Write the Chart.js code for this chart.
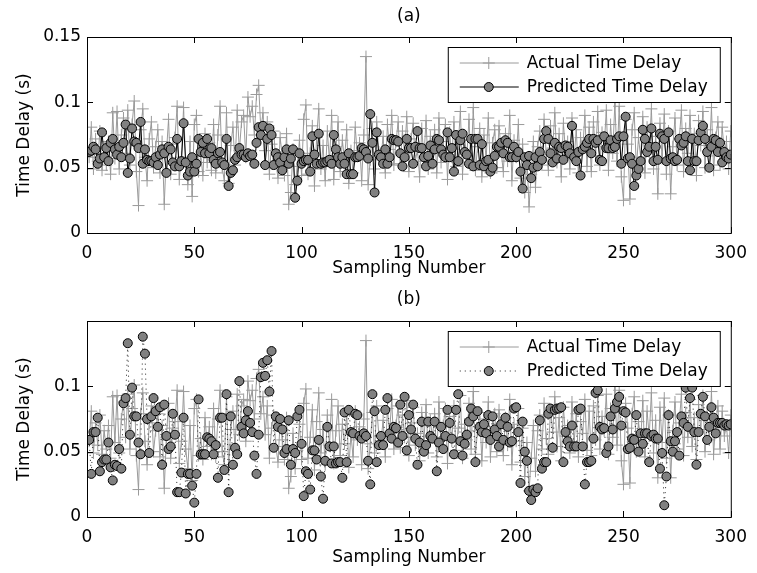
<!DOCTYPE html>
<html>
<head>
<meta charset="utf-8">
<script src="https://cdn.jsdelivr.net/npm/chart.js@4.4.1/dist/chart.umd.min.js"></script>
<style>
  html, body { margin: 0; padding: 0; background: #fff; }
  #wrap { position: relative; width: 757px; height: 573px; }
  canvas { position: absolute; left: 0; }
  #chartA { top: 0; }
  #chartB { top: 287px; }
</style>
</head>
<body>
<div id="wrap">
  <canvas id="chartA" width="757" height="287"></canvas>
  <canvas id="chartB" width="757" height="286"></canvas>
</div>
<script>
// sampling numbers 1..300
const samples = Array.from({ length: 300 }, (_, i) => i + 1);

// measured delay (same in both panels)
const actualDelay = [
  0.058, 0.081, 0.049, 0.072, 0.055, 0.078, 0.048, 0.066, 0.052, 0.070,
  0.045, 0.092, 0.057, 0.093, 0.049, 0.075, 0.088, 0.061, 0.094, 0.052,
  0.083, 0.101, 0.047, 0.021, 0.079, 0.095, 0.058, 0.040, 0.072, 0.085,
  0.050, 0.066, 0.079, 0.046, 0.070, 0.022, 0.061, 0.087, 0.045, 0.068,
  0.073, 0.097, 0.041, 0.058, 0.096, 0.052, 0.037, 0.070, 0.028, 0.083,
  0.090, 0.047, 0.060, 0.044, 0.076, 0.054, 0.069, 0.048, 0.083, 0.046,
  0.075, 0.097, 0.050, 0.040, 0.092, 0.038, 0.067, 0.081, 0.052, 0.094,
  0.063, 0.085, 0.090, 0.058, 0.104, 0.089, 0.097, 0.075, 0.106, 0.113,
  0.079, 0.092, 0.063, 0.085, 0.045, 0.068, 0.078, 0.054, 0.042, 0.073,
  0.059, 0.044, 0.076, 0.022, 0.031, 0.064, 0.037, 0.051, 0.071, 0.044,
  0.087, 0.098, 0.045, 0.061, 0.082, 0.036, 0.073, 0.095, 0.049, 0.067,
  0.040, 0.078, 0.055, 0.090, 0.041, 0.066, 0.085, 0.047, 0.071, 0.056,
  0.079, 0.038, 0.063, 0.046, 0.081, 0.059, 0.069, 0.040, 0.075, 0.135,
  0.037, 0.056, 0.080, 0.049, 0.085, 0.062, 0.058, 0.074, 0.046, 0.083,
  0.064, 0.090, 0.052, 0.070, 0.085, 0.053, 0.078, 0.061, 0.089, 0.047,
  0.072, 0.084, 0.055, 0.064, 0.043, 0.080, 0.058, 0.086, 0.049, 0.074,
  0.061, 0.079, 0.046, 0.088, 0.054, 0.070, 0.083, 0.041, 0.077, 0.058,
  0.085, 0.051, 0.068, 0.093, 0.045, 0.071, 0.059, 0.087, 0.052, 0.096,
  0.048, 0.066, 0.080, 0.043, 0.075, 0.057, 0.088, 0.046, 0.069, 0.079,
  0.050, 0.082, 0.062, 0.047, 0.076, 0.055, 0.090, 0.040, 0.071, 0.058,
  0.083, 0.042, 0.068, 0.031, 0.057, 0.020, 0.045, 0.070, 0.035, 0.066,
  0.078, 0.052, 0.087, 0.060, 0.048, 0.082, 0.065, 0.092, 0.054, 0.076,
  0.043, 0.084, 0.062, 0.070, 0.049, 0.088, 0.057, 0.079, 0.046, 0.073,
  0.064, 0.090, 0.051, 0.081, 0.047, 0.085, 0.059, 0.093, 0.052, 0.077,
  0.066, 0.094, 0.048, 0.083, 0.061, 0.100, 0.055, 0.097, 0.043, 0.025,
  0.087, 0.068, 0.026, 0.079, 0.092, 0.050, 0.073, 0.058, 0.089, 0.046,
  0.081, 0.062, 0.095, 0.049, 0.074, 0.030, 0.084, 0.057, 0.091, 0.045,
  0.078, 0.030, 0.066, 0.088, 0.052, 0.072, 0.094, 0.047, 0.080, 0.061,
  0.090, 0.054, 0.076, 0.044, 0.086, 0.067, 0.093, 0.050, 0.079, 0.059,
  0.096, 0.048, 0.073, 0.085, 0.052, 0.081, 0.062, 0.070, 0.049, 0.078
];

// panel (a) prediction
const predictedA = [
  0.062, 0.063, 0.066, 0.064, 0.053, 0.057, 0.077, 0.058, 0.065, 0.055,
  0.069, 0.072, 0.064, 0.060, 0.066, 0.058, 0.069, 0.083, 0.046, 0.057,
  0.080, 0.070, 0.069, 0.065, 0.085, 0.053, 0.064, 0.056, 0.055, 0.055,
  0.054, 0.058, 0.052, 0.060, 0.064, 0.061, 0.046, 0.066, 0.064, 0.054,
  0.051, 0.072, 0.051, 0.055, 0.084, 0.054, 0.044, 0.047, 0.058, 0.047,
  0.053, 0.072, 0.062, 0.069, 0.061, 0.072, 0.061, 0.065, 0.056, 0.053,
  0.061, 0.062, 0.054, 0.052, 0.072, 0.036, 0.046, 0.048, 0.056, 0.058,
  0.065, 0.060, 0.060, 0.058, 0.061, 0.059, 0.060, 0.053, 0.069, 0.081,
  0.075, 0.082, 0.052, 0.072, 0.080, 0.075, 0.052, 0.061, 0.058, 0.054,
  0.048, 0.058, 0.064, 0.053, 0.057, 0.064, 0.027, 0.040, 0.061, 0.053,
  0.055, 0.056, 0.056, 0.047, 0.074, 0.060, 0.053, 0.076, 0.053, 0.054,
  0.054, 0.055, 0.056, 0.053, 0.075, 0.064, 0.058, 0.053, 0.058, 0.053,
  0.045, 0.061, 0.045, 0.045, 0.058, 0.058, 0.059, 0.065, 0.064, 0.062,
  0.057, 0.091, 0.069, 0.031, 0.077, 0.060, 0.058, 0.053, 0.064, 0.053,
  0.058, 0.072, 0.071, 0.071, 0.070, 0.061, 0.051, 0.058, 0.072, 0.065,
  0.065, 0.053, 0.066, 0.078, 0.065, 0.065, 0.058, 0.051, 0.059, 0.067,
  0.053, 0.064, 0.072, 0.071, 0.064, 0.060, 0.058, 0.077, 0.058, 0.065,
  0.047, 0.075, 0.055, 0.071, 0.076, 0.062, 0.060, 0.053, 0.072, 0.051,
  0.072, 0.072, 0.052, 0.068, 0.051, 0.055, 0.056, 0.047, 0.050, 0.059,
  0.066, 0.066, 0.069, 0.061, 0.071, 0.069, 0.058, 0.058, 0.066, 0.058,
  0.062, 0.047, 0.034, 0.058, 0.052, 0.059, 0.042, 0.050, 0.058, 0.051,
  0.062, 0.056, 0.072, 0.078, 0.072, 0.061, 0.054, 0.069, 0.057, 0.066,
  0.065, 0.056, 0.067, 0.066, 0.061, 0.082, 0.058, 0.055, 0.062, 0.044,
  0.064, 0.066, 0.069, 0.072, 0.061, 0.072, 0.069, 0.071, 0.056, 0.055,
  0.074, 0.065, 0.065, 0.071, 0.065, 0.066, 0.072, 0.074, 0.053, 0.074,
  0.089, 0.057, 0.058, 0.053, 0.036, 0.044, 0.049, 0.055, 0.079, 0.072,
  0.062, 0.066, 0.080, 0.055, 0.066, 0.056, 0.076, 0.074, 0.072, 0.055,
  0.077, 0.057, 0.058, 0.055, 0.056, 0.072, 0.067, 0.069, 0.074, 0.055,
  0.048, 0.072, 0.055, 0.055, 0.071, 0.077, 0.082, 0.072, 0.062, 0.050,
  0.066, 0.072, 0.071, 0.062, 0.069, 0.054, 0.062, 0.058, 0.057, 0.060
];

// panel (b) prediction
const predictedB = [
  0.059, 0.033, 0.065, 0.065, 0.076, 0.035, 0.042, 0.044, 0.044, 0.057,
  0.038, 0.028, 0.040, 0.039, 0.052, 0.037, 0.087, 0.091, 0.133, 0.063,
  0.099, 0.077, 0.077, 0.057, 0.048, 0.138, 0.125, 0.075, 0.049, 0.077,
  0.091, 0.081, 0.069, 0.084, 0.040, 0.086, 0.062, 0.052, 0.054, 0.079,
  0.063, 0.019, 0.019, 0.034, 0.076, 0.018, 0.033, 0.033, 0.024, 0.011,
  0.033, 0.090, 0.048, 0.048, 0.048, 0.061, 0.060, 0.058, 0.048, 0.055,
  0.030, 0.076, 0.076, 0.036, 0.094, 0.019, 0.077, 0.040, 0.053, 0.048,
  0.104, 0.069, 0.064, 0.074, 0.081, 0.072, 0.065, 0.047, 0.033, 0.063,
  0.107, 0.118, 0.108, 0.120, 0.096, 0.127, 0.053, 0.077, 0.069, 0.075,
  0.067, 0.049, 0.052, 0.074, 0.040, 0.052, 0.049, 0.077, 0.082, 0.056,
  0.016, 0.035, 0.033, 0.021, 0.051, 0.051, 0.044, 0.059, 0.031, 0.014,
  0.043, 0.069, 0.054, 0.041, 0.054, 0.041, 0.042, 0.042, 0.030, 0.080,
  0.042, 0.082, 0.065, 0.064, 0.079, 0.078, 0.062, 0.060, 0.064, 0.062,
  0.043, 0.025, 0.094, 0.081, 0.042, 0.055, 0.062, 0.055, 0.082, 0.091,
  0.064, 0.060, 0.069, 0.068, 0.057, 0.086, 0.062, 0.092, 0.051, 0.078,
  0.067, 0.086, 0.060, 0.040, 0.057, 0.073, 0.050, 0.055, 0.073, 0.062,
  0.060, 0.073, 0.035, 0.057, 0.069, 0.052, 0.062, 0.082, 0.072, 0.060,
  0.048, 0.082, 0.094, 0.058, 0.047, 0.056, 0.063, 0.073, 0.083, 0.077,
  0.042, 0.081, 0.069, 0.065, 0.071, 0.064, 0.078, 0.059, 0.077, 0.067,
  0.062, 0.054, 0.071, 0.059, 0.076, 0.069, 0.057, 0.058, 0.083, 0.084,
  0.065, 0.026, 0.073, 0.050, 0.043, 0.020, 0.013, 0.021, 0.019, 0.022,
  0.074, 0.037, 0.042, 0.042, 0.079, 0.083, 0.053, 0.082, 0.083, 0.083,
  0.084, 0.042, 0.065, 0.058, 0.054, 0.070, 0.054, 0.054, 0.082, 0.083,
  0.054, 0.025, 0.042, 0.042, 0.043, 0.060, 0.095, 0.097, 0.069, 0.067,
  0.068, 0.049, 0.054, 0.077, 0.067, 0.083, 0.088, 0.092, 0.070, 0.081,
  0.080, 0.052, 0.053, 0.060, 0.059, 0.078, 0.050, 0.064, 0.056, 0.064,
  0.064, 0.042, 0.062, 0.063, 0.060, 0.060, 0.037, 0.049, 0.009, 0.031,
  0.078, 0.058, 0.050, 0.058, 0.065, 0.047, 0.077, 0.072, 0.099, 0.069,
  0.091, 0.099, 0.065, 0.040, 0.065, 0.079, 0.092, 0.077, 0.059, 0.069,
  0.084, 0.076, 0.064, 0.072, 0.072, 0.072, 0.070, 0.071, 0.070, 0.071
];

const xTicks = [0, 50, 100, 150, 200, 250, 300];
const yTicksA = [0, 0.05, 0.1, 0.15];
const yTicksB = [0, 0.05, 0.1];
const seriesNames = ['Actual Time Delay', 'Predicted Time Delay'];

const FONT = '"DejaVu Sans", sans-serif';
Chart.defaults.font.family = FONT;
Chart.defaults.font.size = 17;
Chart.defaults.color = '#000';

const toPoints = vals => vals.map((v, i) => ({ x: samples[i], y: v }));

// box, inward ticks, panel title and legend like the matlab figure
const matlabBox = {
  id: 'matlabBox',
  afterDraw(chart, args, opts) {
    const { ctx, chartArea: a, scales: { x, y } } = chart;
    ctx.save();
    ctx.strokeStyle = '#000';
    ctx.lineWidth = 1;
    ctx.strokeRect(a.left + 0.5, a.top + 0.5, a.right - a.left, a.bottom - a.top);
    ctx.beginPath();
    x.ticks.forEach(t => {
      const px = Math.round(x.getPixelForValue(t.value)) + 0.5;
      ctx.moveTo(px, a.bottom); ctx.lineTo(px, a.bottom - 6);
      ctx.moveTo(px, a.top); ctx.lineTo(px, a.top + 6);
    });
    y.ticks.forEach(t => {
      const py = Math.round(y.getPixelForValue(t.value)) + 0.5;
      ctx.moveTo(a.left, py); ctx.lineTo(a.left + 6, py);
      ctx.moveTo(a.right, py); ctx.lineTo(a.right - 6, py);
    });
    ctx.stroke();

    // panel title
    ctx.font = '17px ' + FONT;
    ctx.fillStyle = '#000';
    ctx.textAlign = 'center';
    ctx.textBaseline = 'middle';
    ctx.fillText(opts.title, (a.left + a.right) / 2, a.top - opts.titleGap);

    // legend
    const lw = 272, lh = 55;
    const lx = a.right - 283, ly = a.top + 10;
    ctx.fillStyle = '#fff';
    ctx.fillRect(lx, ly, lw, lh);
    ctx.strokeStyle = '#000';
    ctx.strokeRect(lx + 0.5, ly + 0.5, lw, lh);
    chart.data.datasets.forEach((ds, k) => {
      const yy = ly + 16 + k * 24;
      ctx.save();
      ctx.strokeStyle = ds.borderColor;
      ctx.lineWidth = ds.borderWidth;
      ctx.setLineDash(ds.borderDash || []);
      ctx.beginPath();
      ctx.moveTo(lx + 12, yy); ctx.lineTo(lx + 71, yy);
      ctx.stroke();
      ctx.restore();
      ctx.fillStyle = ds.pointBackgroundColor;
      ctx.strokeStyle = ds.pointBorderColor;
      ctx.lineWidth = ds.pointBorderWidth;
      ctx.beginPath();
      if (ds.pointStyle === 'circle') {
        ctx.arc(lx + 41, yy, ds.pointRadius, 0, Math.PI * 2);
        ctx.fill();
        ctx.stroke();
      } else {
        ctx.moveTo(lx + 41 - ds.pointRadius, yy); ctx.lineTo(lx + 41 + ds.pointRadius, yy);
        ctx.moveTo(lx + 41, yy - ds.pointRadius); ctx.lineTo(lx + 41, yy + ds.pointRadius);
        ctx.stroke();
      }
      ctx.fillStyle = '#000';
      ctx.textAlign = 'left';
      ctx.textBaseline = 'middle';
      ctx.font = '17px ' + FONT;
      ctx.fillText(ds.label, lx + 79, yy + 1);
    });
    ctx.restore();
  }
};

function makeChart(id, predicted, dashed, yTicks, cfg) {
  const actualSet = {
    label: seriesNames[0],
    data: toPoints(actualDelay),
    borderColor: '#9a9a9a',
    borderWidth: 1,
    pointStyle: 'cross',
    pointRadius: 6,
    pointBorderColor: '#9a9a9a',
    pointBackgroundColor: '#9a9a9a',
    pointBorderWidth: 1,
    order: 2
  };
  const predSet = {
    label: seriesNames[1],
    data: toPoints(predicted),
    borderColor: dashed ? '#222' : '#000',
    borderWidth: 1,
    borderDash: dashed ? [1, 4] : [],
    pointStyle: 'circle',
    pointRadius: 4.5,
    pointBorderColor: '#000',
    pointBackgroundColor: '#808080',
    pointBorderWidth: 1,
    order: 1
  };
  return new Chart(document.getElementById(id), {
    type: 'line',
    data: { datasets: [actualSet, predSet] },
    options: {
      responsive: false,
      animation: false,
      devicePixelRatio: 1,
      layout: { padding: { top: cfg.top, right: 18, left: 0, bottom: 0 } },
      elements: { line: { tension: 0 } },
      plugins: {
        legend: { display: false },
        tooltip: { enabled: false },
        matlabBox: { title: cfg.title, titleGap: cfg.titleGap }
      },
      scales: {
        x: {
          type: 'linear',
          min: 0, max: 300,
          afterFit: s => { s.height = cfg.xHeight; },
          afterBuildTicks: s => { s.ticks = xTicks.map(v => ({ value: v })); },
          grid: { display: false, drawTicks: false },
          border: { display: false },
          ticks: { padding: cfg.tickPad, maxRotation: 0, autoSkip: false },
          title: { display: true, text: 'Sampling Number', padding: { top: 0, bottom: cfg.xTitlePad } }
        },
        y: {
          min: 0, max: 0.15,
          afterFit: s => { s.width = 87; },
          afterBuildTicks: s => { s.ticks = yTicks.map(v => ({ value: v })); },
          grid: { display: false, drawTicks: false },
          border: { display: false },
          ticks: { padding: 6, callback: v => String(Math.round(v * 100) / 100) },
          title: { display: true, text: 'Time Delay (s)', padding: { top: 14, bottom: 0 } }
        }
      }
    },
    plugins: [matlabBox]
  });
}

makeChart('chartA', predictedA, false, yTicksA, { top: 37, xHeight: 54, xTitlePad: 8, tickPad: 10, title: '(a)', titleGap: 20 });
makeChart('chartB', predictedB, true, yTicksB, { top: 34, xHeight: 56, xTitlePad: 5, tickPad: 10, title: '(b)', titleGap: 21 });
</script>
</body>
</html>
